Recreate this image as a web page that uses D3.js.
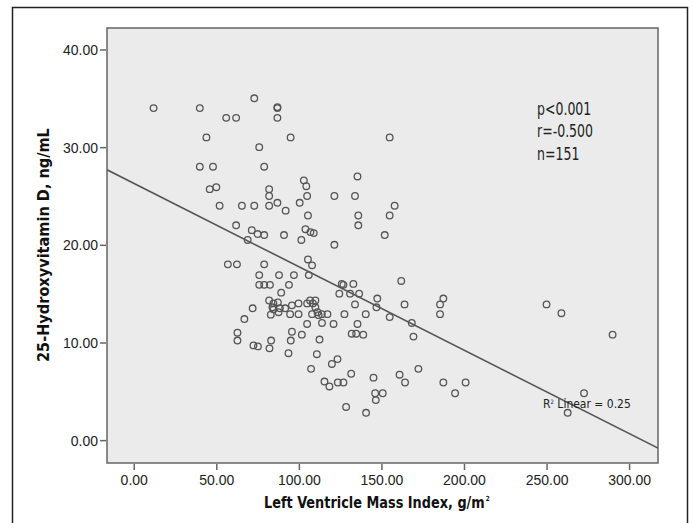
<!DOCTYPE html>
<html>
<head>
<meta charset="utf-8">
<script src="https://cdn.jsdelivr.net/npm/d3@7"></script>
<style>
  body { margin: 0; background: #fff; }
  svg { display: block; font-family: 'DejaVu Sans Condensed', 'Liberation Sans', sans-serif; }
</style>
</head>
<body>
<svg id="chart" width="693" height="523"></svg>
<script>
// left ventricle mass index (g/m2) and 25-OH vitamin D (ng/mL)
var lvmi = [12, 40, 73, 87, 87, 56, 62, 87, 44, 95, 76, 40, 48, 79, 46, 50, 82, 82, 52, 65.5,
  73, 82, 87, 92, 155, 135.5, 103, 104.5, 105, 121.5, 134, 100.5, 158, 155, 136, 136, 105.5, 104, 107, 109,
  101.5, 91, 152, 121.5, 62, 71.5, 75, 79, 69, 57, 62.5, 79, 105.5, 108, 76, 88, 97, 106, 76, 79,
  82.5, 94, 89.3, 126, 127, 133, 162, 124.5, 131, 136.5, 147.5, 164, 187.5, 185.5, 185.5, 134, 147, 82, 84.6, 87.3,
  84.6, 87.7, 83, 72, 91.7, 95.8, 99.8, 94.7, 99.8, 106.8, 108.5, 110, 111.3, 113.9, 117.3, 108, 112, 105, 114, 121,
  127.6, 140.5, 155, 135.5, 168.4, 169.4, 67, 62.8, 62.8, 72.5, 75.2, 83.2, 82.2, 95.8, 95.1, 101.8, 112.5, 132, 134.7, 139,
  250, 259, 290, 93.7, 110.9, 123.4, 120, 107.4, 131.7, 115.5, 118.5, 123.6, 127, 145.2, 161, 164.3, 172.4, 187.5, 201, 194.6,
  146.2, 150.8, 146.6, 128.6, 140.7, 272.7, 262.8, 84, 110, 105, 88.5];
var vitD = [34, 34, 35, 34, 34.1, 33, 33, 33, 31, 31, 30, 28, 28, 28, 25.7, 25.9, 25.7, 25, 24, 24,
  24, 24, 24.3, 23.5, 31, 27, 26.6, 26, 25, 25, 25, 24.3, 24, 23, 23, 22, 23, 21.6, 21.3, 21.2,
  20.5, 21, 21, 20, 22, 21.5, 21.1, 21, 20.5, 18, 18, 18, 18.5, 17.9, 16.9, 16.9, 16.9, 16.9, 15.9, 15.9,
  15.9, 15.9, 15.1, 16, 15.9, 16, 16.3, 15, 15, 15, 14.5, 13.9, 14.5, 13.9, 12.9, 13.9, 13.6, 14.3, 14, 14.1,
  13.4, 13.1, 12.85, 13.5, 13.5, 13.8, 14, 12.9, 12.9, 14.3, 14, 13.6, 13.1, 12.9, 12.9, 12.9, 12.8, 11.9, 12, 11.9,
  12.9, 12.9, 12.6, 11.9, 12, 10.6, 12.4, 11, 10.2, 9.7, 9.6, 10.2, 9.4, 11.1, 10.2, 10.8, 10.3, 10.9, 10.9, 10.8,
  13.9, 13, 10.8, 8.9, 8.8, 8.3, 7.8, 7.3, 6.8, 6, 5.5, 5.9, 5.9, 6.4, 6.7, 5.9, 7.3, 5.9, 5.9, 4.8,
  4.8, 4.8, 4.1, 3.4, 2.8, 4.8, 2.8, 13.6, 14.3, 14, 13.5];
var xTicks = [0, 50, 100, 150, 200, 250, 300];
var yTicks = [0, 10, 20, 30, 40];
var statLines = ["p<0.001", "r=-0.500", "n=151"];
// fit line as printed by SPSS
var fitIntercept = 26.3;
var fitSlope = -0.0854;
var fitLabel = "0.25";

var points = lvmi.map(function (d, i) { return { x: d, y: vitD[i] }; });

var plot = { left: 107, top: 28, right: 658, bottom: 463 };
var svg = d3.select("#chart");

var x = d3.scaleLinear().domain([-16.2, 317.5]).range([plot.left, plot.right]);
var y = d3.scaleLinear().domain([-2.34, 42.2]).range([plot.bottom, plot.top]);

// outer frame
svg.append("rect")
  .attr("x", 12.5).attr("y", 7.5)
  .attr("width", 675).attr("height", 530)
  .attr("fill", "#fff")
  .attr("stroke", "#222")
  .attr("stroke-width", 1.5);

// plot panel
svg.append("rect")
  .attr("x", plot.left).attr("y", plot.top)
  .attr("width", plot.right - plot.left).attr("height", plot.bottom - plot.top)
  .attr("fill", "#ebebeb")
  .attr("stroke", "#666")
  .attr("stroke-width", 1.5);

svg.append("clipPath").attr("id", "clip")
  .append("rect")
  .attr("x", plot.left).attr("y", plot.top)
  .attr("width", plot.right - plot.left).attr("height", plot.bottom - plot.top);

// axes
var fmt = d3.format(".2f");
var yAxis = svg.append("g")
  .attr("transform", "translate(" + (plot.left - 1) + ",0)")
  .call(d3.axisLeft(y).tickValues(yTicks).tickFormat(fmt).tickSize(6).tickSizeOuter(0));
var xAxis = svg.append("g")
  .attr("transform", "translate(0," + (plot.bottom + 1) + ")")
  .call(d3.axisBottom(x).tickValues(xTicks).tickFormat(fmt).tickSize(6).tickSizeOuter(0));
[xAxis, yAxis].forEach(function (g) {
  g.select(".domain").remove();
  g.selectAll("line").attr("stroke", "#666").attr("stroke-width", 1.5);
  g.selectAll("text").attr("fill", "#222").style("font-size", "14px");
});
yAxis.selectAll("text").attr("x", -8).attr("dy", "0.36em");
xAxis.selectAll("text").attr("y", 11);

// regression line
svg.append("line")
  .attr("clip-path", "url(#clip)")
  .attr("x1", x(-16.2)).attr("y1", y(fitIntercept + fitSlope * -16.2))
  .attr("x2", x(317.5)).attr("y2", y(fitIntercept + fitSlope * 317.5))
  .attr("stroke", "#555")
  .attr("stroke-width", 1.6);

// points
svg.append("g")
  .selectAll("circle")
  .data(points)
  .enter()
  .append("circle")
  .attr("cx", function (d) { return x(d.x); })
  .attr("cy", function (d) { return y(d.y); })
  .attr("r", 3.3)
  .attr("fill", "none")
  .attr("stroke", "#555")
  .attr("stroke-width", 1.3);

// stats text, squeezed to look like the condensed original
svg.append("g")
  .attr("transform", "translate(537,0) scale(0.82,1)")
  .selectAll("text")
  .data(statLines)
  .enter()
  .append("text")
  .attr("x", 0)
  .attr("y", function (d, i) { return 115 + i * 22.5; })
  .attr("fill", "#222")
  .style("font-size", "17px")
  .text(function (d) { return d; });

// R2 label
var r2 = svg.append("text")
  .attr("x", 543).attr("y", 408)
  .attr("fill", "#222")
  .style("font-size", "12px");
r2.append("tspan").text("R");
r2.append("tspan").attr("dy", -4).style("font-size", "6px").text("2");
r2.append("tspan").attr("dy", 4).text(" Linear = " + fitLabel);

// axis titles (squeezed horizontally to the width of the original condensed bold)
var xt = svg.append("text")
  .attr("fill", "#111")
  .style("font-size", "16px")
  .style("font-weight", "bold");
var xtMain = xt.append("tspan").text("Left Ventricle Mass Index, g/m");
xt.append("tspan").attr("dx", 1).attr("dy", -7).style("font-size", "7px").text("2");
var xs = 221 / xtMain.node().getComputedTextLength();
xt.attr("transform", "translate(264,508) scale(" + xs + ",1)");

var yt = svg.append("text")
  .attr("fill", "#111")
  .style("font-size", "16px")
  .style("font-weight", "bold")
  .text("25-Hydroxyvitamin D, ng/mL");
var yLen = yt.node().getComputedTextLength();
yt.attr("transform", "translate(49,245) rotate(-90) scale(" + (234 / yLen) + ",1) translate(" + (-yLen / 2) + ",0)");
</script>
</body>
</html>
